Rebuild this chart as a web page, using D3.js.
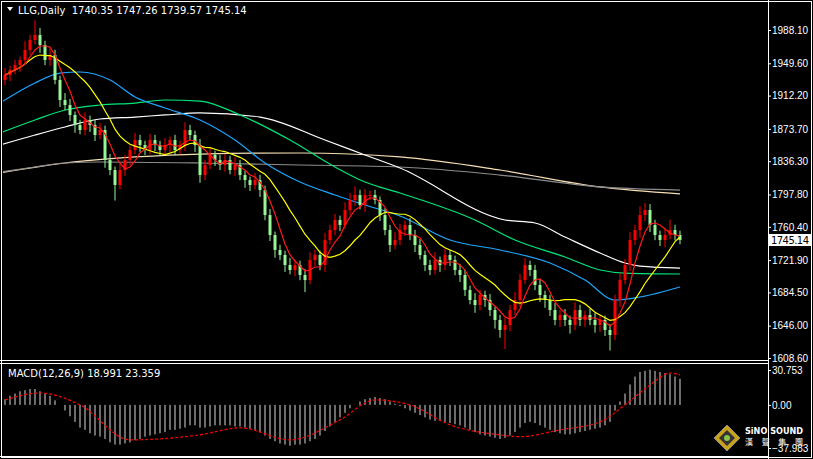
<!DOCTYPE html>
<html><head><meta charset="utf-8">
<script src="https://cdn.jsdelivr.net/npm/d3@7/dist/d3.min.js"></script>
<style>html,body{margin:0;padding:0;background:#000;}svg{display:block;}</style>
</head><body>
<script>
const closes=[1936,1941.8,1947.6,1953.4,1965,1976.5,1982.3,1970.7,1953.4,1959.2,
1930.3,1907.1,1901.3,1889.8,1878.2,1872.4,1884,1878.2,1866.6,1872.4,
1837.7,1826.1,1808.8,1826.1,1837.7,1849.3,1860.8,1855,1849.3,1860.8,
1855,1849.3,1855,1860.8,1849.3,1855,1872.4,1866.6,1855,1820.3,
1831.9,1843.5,1837.7,1831.9,1837.7,1826.1,1831.9,1820.3,1814.5,1808.8,
1814.5,1803,1774,1750.9,1733.6,1727.8,1716.2,1710.4,1716.2,1704.6,
1698.8,1722,1727.8,1716.2,1745.1,1756.7,1768.3,1762.5,1779.8,1791.4,
1797.2,1785.6,1797.2,1797.2,1791.4,1774,1756.7,1739.3,1745.1,1756.7,
1762.5,1750.9,1739.3,1727.8,1716.2,1710.4,1722,1716.2,1727.8,1722,
1710.4,1704.6,1687.3,1675.7,1669.9,1681.5,1675.7,1664.1,1652.6,1641,
1646.8,1664.1,1675.7,1698.8,1716.2,1710.4,1693.1,1681.5,1675.7,1664.1,
1652.6,1658.3,1652.6,1646.8,1664.1,1652.6,1658.3,1652.6,1646.8,1652.6,
1641,1635.2,1675.7,1698.8,1716.2,1745.1,1756.7,1774,1779.8,1762.5,
1750.9,1745.1,1750.9,1756.7,1750.9,1745.14];
const firstOpen=1930.3;
const upWick=[8,5,6,4,10,6,17,8,5,9,6,5,8,7,4,6,9,5,6,8,5,7,4,9,6,5,8,6,5,7,6,5,8,4,6,5,9,6,5,7,6,8,5,6,7,5,9,6,5,4,8,6,5,7,4,6,5,8,6,5,7,9,6,5,8,6,7,5,9,8,10,6,7,5,6,4,8,6,9,7,5,8,6,7,5,6,9,4,7,6,5,7,6,5,8,6,5,7,4,6,8,6,9,7,8,5,6,7,5,6,8,6,7,5,9,6,5,7,8,6,5,7,6,8,7,9,6,10,8,7,6,5,8,12,6,5];
const lowWick=[6,7,5,8,4,6,5,9,6,7,5,8,6,7,9,5,6,8,7,5,9,6,18,5,7,6,5,8,6,5,7,6,5,8,6,5,7,6,8,9,6,5,7,6,8,5,7,6,9,7,5,8,6,7,9,6,8,5,7,6,14,5,7,6,8,5,6,7,5,6,7,5,8,6,5,7,6,8,5,6,7,6,8,5,7,6,5,8,6,7,6,8,7,5,9,6,8,7,10,9,22,7,6,8,5,7,6,8,9,7,6,8,7,10,6,7,8,6,9,8,7,18,6,8,5,7,6,9,7,8,6,7,8,5,6,5];
const maBlue=[[-1,1903.6],[6,1926.8],[11,1938.3],[15,1939.5],[21,1930.3],[26,1910.6],[32,1897.9],[39,1884],[46,1860.8],[52,1834.2],[59,1812.2],[66,1797.2],[72,1785.6],[79,1772.9],[89,1745.1],[99,1733.6],[109,1718.5],[116,1698.8],[122,1675.7],[127,1679.2],[135,1690.8]];
const maGreen=[[-1,1868.9],[6,1884],[12,1895.5],[19,1901.3],[26,1903.6],[32,1907.1],[39,1905.9],[47,1889.8],[57,1860.8],[66,1829.6],[72,1812.2],[79,1799.5],[94,1768.3],[102,1745.1],[112,1725.5],[119,1710.4],[124,1706.9],[135,1705.8]];
const maWhite=[[-1,1855],[6,1866.6],[12,1875.9],[19,1885.1],[26,1887.4],[32,1889.8],[39,1892.1],[51,1887.4],[64,1860.8],[72,1843.5],[79,1828.4],[100,1768.3],[106,1764.8],[112,1748.6],[119,1730.1],[124,1718.5],[127,1715],[135,1712.7]];
const maGray=[[-1,1823.8],[6,1829.6],[12,1834.2],[19,1835.4],[39,1834.2],[59,1831.9],[79,1829.6],[99,1820.3],[119,1806.5],[135,1802.9]];
const maBeige=[[-1,1822.7],[12,1834.2],[26,1841.2],[39,1844.6],[59,1845.8],[79,1841.2],[99,1826.1],[119,1806.5],[135,1798.4]];
const macdHist=[5,8,10,12,13,14,14,12,10,8,4,0,-5,-10,-15,-20,-22,-25,-27,-28,-30,-33,-35,-35,-34,-33,-31,-30,-28,-27,-26,-25,-24,-22,-22,-21,-20,-18,-18,-20,-20,-19,-18,-18,-18,-18,-19,-19,-20,-21,-22,-24,-27,-30,-32,-34,-35,-36,-35,-35,-34,-32,-30,-27,-23,-19,-15,-11,-7,-3,0,3,5,6,7,6,5,3,1,-1,-3,-5,-7,-9,-11,-13,-14,-14,-15,-16,-17,-18,-20,-22,-24,-26,-27,-28,-29,-30,-29,-27,-24,-20,-16,-15,-16,-18,-20,-22,-24,-25,-26,-26,-25,-24,-23,-22,-21,-20,-18,-15,-5,3,10,18,25,29,30,31,30,29,28,27,25,23];
const macdSignal=[[0,4.4],[7,10.5],[15,0],[25,-30.8],[39,-26.4],[47,-20.2],[57,-30.8],[67,-13.2],[74,4.4],[81,0],[89,-17.6],[99,-26.4],[103,-28],[111,-22],[119,-15],[124,0],[129,17.6],[133,28],[135,26.4]];
const priceTicks=[1988.10,1949.60,1912.20,1873.70,1836.30,1797.80,1760.40,1721.90,1684.50,1646.00,1608.60];
const macdTicks=[30.753,0.00,-37.983];
const header="LLG,Daily  1740.35 1747.26 1739.57 1745.14";
const macdLabel="MACD(12,26,9) 18.991 23.359";

const W=813,H=459,PR=768;
const svg=d3.select("body").append("svg").attr("width",W).attr("height",H).style("font-family","Tahoma, 'DejaVu Sans', sans-serif");
svg.append("rect").attr("width",W).attr("height",H).attr("fill","#000");
const x=d3.scaleLinear().domain([0,135]).range([5,680]);
const y=d3.scaleLinear().domain([1608.6,1988.1]).range([358,30]);
const ym=d3.scaleLinear().domain([-37.983,30.753]).range([448,370]);
const defs=svg.append("defs");
defs.append("clipPath").attr("id","cm").append("rect").attr("x",3).attr("y",3).attr("width",PR-4).attr("height",356);
defs.append("clipPath").attr("id","cd").append("rect").attr("x",3).attr("y",364).attr("width",PR-4).attr("height",91);
const gm=svg.append("g").attr("clip-path","url(#cm)");
const line=d3.line().x(d=>x(d[0])).y(d=>y(d[1])).curve(d3.curveMonotoneX);
[[maBeige,"#f5deb3"],[maGray,"#8c8c8c"],[maWhite,"#ffffff"],[maGreen,"#00e676"],[maBlue,"#1ea7ff"]].forEach(([d,c])=>{
 gm.append("path").attr("d",line(d)).attr("fill","none").attr("stroke",c).attr("stroke-width",1.2);
});
const candles=closes.map((c,i)=>{const o=i?closes[i-1]:firstOpen;return {i,o,c,h:Math.max(o,c)+upWick[i],l:Math.min(o,c)-lowWick[i]};});
const cg=gm.selectAll("g.c").data(candles).join("g");
cg.append("line").attr("x1",d=>x(d.i)).attr("x2",d=>x(d.i)).attr("y1",d=>y(d.h)).attr("y2",d=>y(d.l)).attr("stroke",d=>d.c>=d.o?"#ff0000":"#98f598");
cg.append("rect").attr("x",d=>x(d.i)-1.5).attr("width",3).attr("y",d=>y(Math.max(d.o,d.c))).attr("height",d=>Math.max(1,Math.abs(y(d.o)-y(d.c)))).attr("fill",d=>d.c>=d.o?"#ff0000":"#98f598");
function sma(n){return closes.map((c,i)=>{const s=closes.slice(Math.max(0,i-n+1),i+1);return [i,d3.mean(s)];});}
gm.append("path").attr("d",d3.line().x(d=>x(d[0])).y(d=>y(d[1]))(sma(13))).attr("fill","none").attr("stroke","#ffff00").attr("stroke-width",1.2);
gm.append("path").attr("d",d3.line().x(d=>x(d[0])).y(d=>y(d[1]))(sma(5))).attr("fill","none").attr("stroke","#ff1a1a").attr("stroke-width",1.2);
const gd=svg.append("g").attr("clip-path","url(#cd)");
gd.selectAll("line.h").data(macdHist).join("line").attr("x1",(d,i)=>x(i)).attr("x2",(d,i)=>x(i)).attr("y1",ym(0)).attr("y2",d=>ym(d)).attr("stroke","#d8d8d8").attr("stroke-width",1);
gd.append("path").attr("d",d3.line().x(d=>x(d[0])).y(d=>ym(d[1])).curve(d3.curveMonotoneX)(macdSignal)).attr("fill","none").attr("stroke","#ff0000").attr("stroke-width",1.2).attr("stroke-dasharray","3,2");
svg.append("rect").attr("x",1.5).attr("y",1.5).attr("width",W-3).attr("height",H-3).attr("fill","none").attr("stroke","#fff");
svg.append("line").attr("x1",PR+0.5).attr("x2",PR+0.5).attr("y1",0).attr("y2",H).attr("stroke","#fff");
svg.append("line").attr("x1",0).attr("x2",PR).attr("y1",360.5).attr("y2",360.5).attr("stroke","#fff");
svg.append("line").attr("x1",0).attr("x2",PR).attr("y1",363.5).attr("y2",363.5).attr("stroke","#fff");
svg.append("line").attr("x1",0).attr("x2",PR).attr("y1",456.5).attr("y2",456.5).attr("stroke","#fff");
const ax=svg.append("g").attr("transform",`translate(${PR},0)`).call(d3.axisRight(y).tickValues(priceTicks).tickFormat(d3.format(".2f")).tickSize(3));
ax.select(".domain").remove();
ax.selectAll("line").attr("stroke","#fff");ax.selectAll("text").attr("fill","#fff").attr("font-size",10).attr("x",4);
const ax2=svg.append("g").attr("transform",`translate(${PR},0)`).call(d3.axisRight(ym).tickValues(macdTicks).tickFormat(d=>d===0?"0.00":d3.format(".3f")(d)).tickSize(3));
ax2.select(".domain").remove();
ax2.selectAll("line").attr("stroke","#fff");ax2.selectAll("text").attr("fill","#fff").attr("font-size",10).attr("x",4);
const lp=closes[closes.length-1];
svg.append("rect").attr("x",PR+1).attr("y",y(lp)-6).attr("width",43).attr("height",12).attr("fill","#fff");
svg.append("text").attr("x",PR+3).attr("y",y(lp)+4).attr("font-size",10).attr("fill","#000").attr("textLength",38).text(lp.toFixed(2));
svg.append("path").attr("d","M7,7 L13,7 L10,11 Z").attr("fill","#fff");
svg.append("text").attr("x",18).attr("y",14).attr("font-size",10).attr("fill","#fff").style("white-space","pre").text(header);
svg.append("text").attr("x",8).attr("y",377).attr("font-size",10).attr("fill","#fff").text(macdLabel);
const lg=svg.append("g").attr("transform","translate(727,438)");
lg.append("path").attr("d","M0,-13 L13,0 L0,13 L-13,0 Z").attr("fill","#c9a21a").attr("stroke","#888");
lg.append("path").attr("d","M0,-8 L8,0 L0,8 L-8,0 Z").attr("fill","#333");
lg.append("circle").attr("r",3).attr("fill","#8bc34a");
svg.append("text").attr("x",745).attr("y",434).attr("font-size",8.5).attr("font-weight","bold").attr("fill","#fff").attr("textLength",58).attr("lengthAdjust","spacingAndGlyphs").text("SiNO SOUND");
svg.append("text").attr("x",745).attr("y",445).attr("font-size",8).attr("fill","#fff").attr("font-family","Noto Sans CJK TC").attr("textLength",58).text("漢聲集團");
</script>
</body></html>
